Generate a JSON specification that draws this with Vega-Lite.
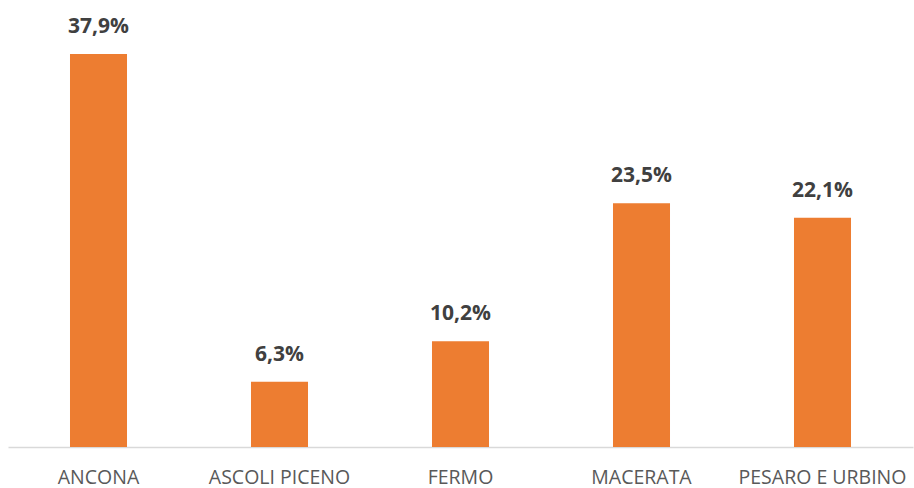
{
  "$schema": "https://vega.github.io/schema/vega-lite/v6.json",
  "autosize": {"type": "none"},
  "width": 905,
  "height": 446,
  "padding": {"left": 8, "top": 1, "right": 1, "bottom": 41},
  "background": "white",
  "config": {
    "view": {"stroke": null},
    "locale": {"number": {"decimal": ",", "thousands": ".", "grouping": [3], "currency": ["€", ""]}}
  },
  "data": {"values": [
    {"provincia": "ANCONA", "quota": 0.379},
    {"provincia": "ASCOLI PICENO", "quota": 0.063},
    {"provincia": "FERMO", "quota": 0.102},
    {"provincia": "MACERATA", "quota": 0.235},
    {"provincia": "PESARO E URBINO", "quota": 0.221}
  ]},
  "encoding": {
    "x": {
      "field": "provincia", "type": "nominal", "sort": null,
      "scale": {"paddingInner": 0.685, "paddingOuter": 0.3425},
      "axis": {
        "title": null, "labelAngle": 0, "ticks": false,
        "domainColor": "#D9D9D9", "domainWidth": 1.5,
        "labelFont": "Open Sans", "labelFontSize": 19.5, "labelColor": "#595959",
        "labelBaseline": "alphabetic", "labelPadding": 36
      }
    },
    "y": {
      "field": "quota", "type": "quantitative",
      "scale": {"domain": [0, 0.43], "nice": false},
      "axis": null
    }
  },
  "layer": [
    {"mark": {"type": "bar", "color": "#ED7D31"}},
    {
      "mark": {"type": "text", "baseline": "alphabetic", "dy": -21, "font": "Open Sans", "fontSize": 21, "fontWeight": "bold", "color": "#404040"},
      "encoding": {"text": {"field": "quota", "type": "quantitative", "format": ".1%"}}
    }
  ]
}
